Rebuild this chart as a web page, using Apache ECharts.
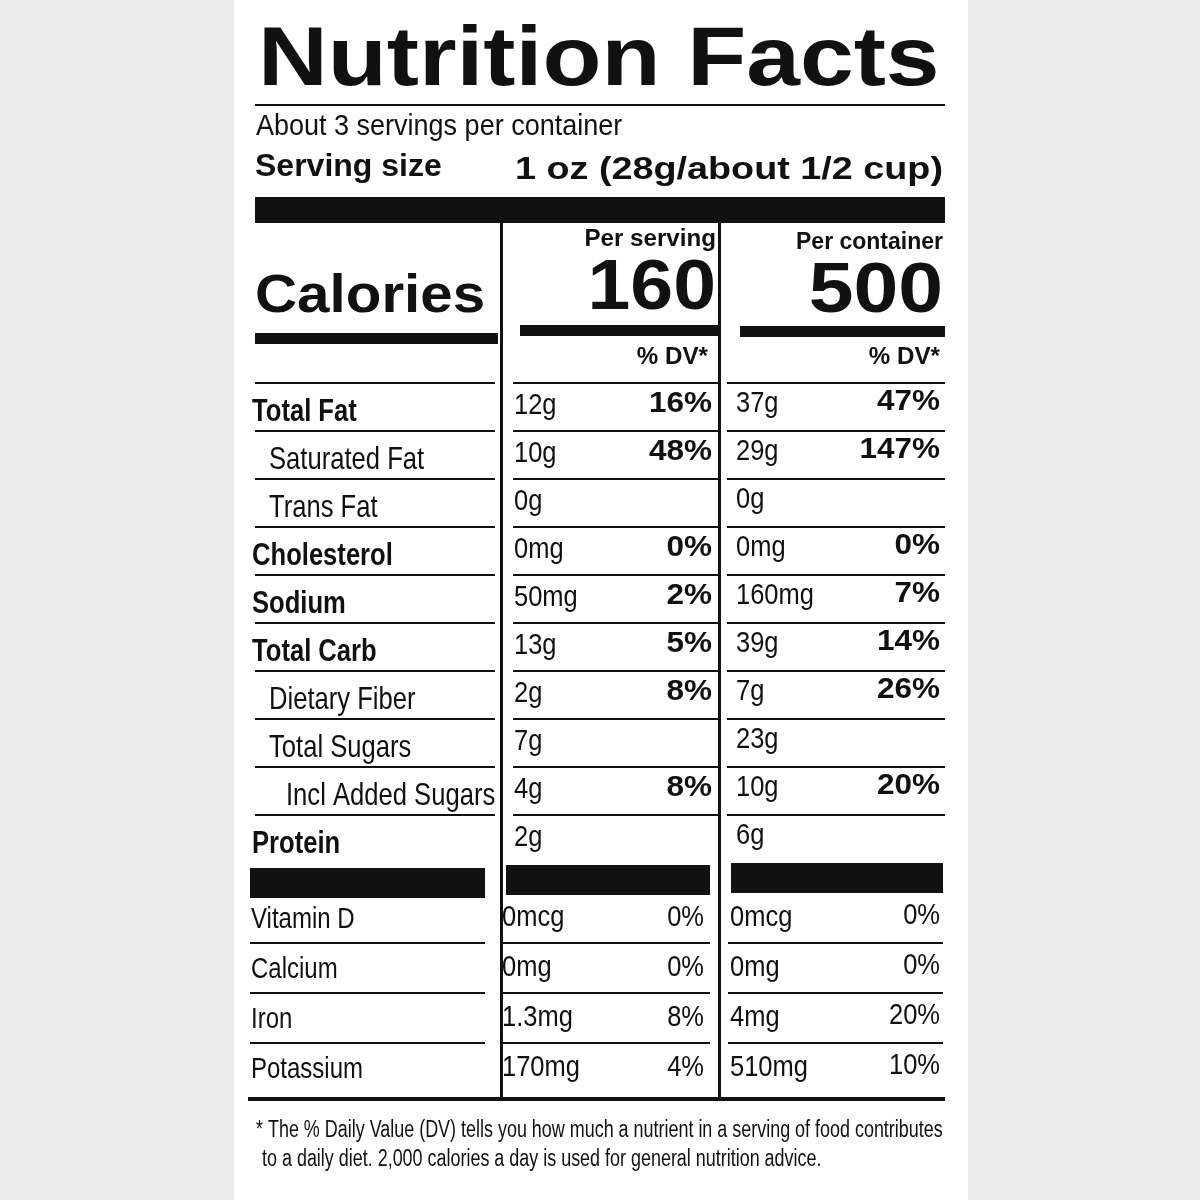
<!DOCTYPE html>
<html><head><meta charset="utf-8">
<script src="https://cdn.jsdelivr.net/npm/echarts@6/dist/echarts.min.js"></script>
<style>html,body{margin:0;padding:0;background:#ececec}#main{width:1200px;height:1200px}</style>
</head><body><div id="main"></div>
<script>
var nutrients = ['Total Fat','Saturated Fat','Trans Fat','Cholesterol','Sodium','Total Carb','Dietary Fiber','Total Sugars','Incl Added Sugars','Protein'];
var indents = [0,1,1,0,0,0,1,1,2,0];
var servAmt = ['12g','10g','0g','0mg','50mg','13g','2g','7g','4g','2g'];
var servDV = ['16%','48%','','0%','2%','5%','8%','','8%',''];
var contAmt = ['37g','29g','0g','0mg','160mg','39g','7g','23g','10g','6g'];
var contDV = ['47%','147%','','0%','7%','14%','26%','','20%',''];
var vitamins = ['Vitamin D','Calcium','Iron','Potassium'];
var vitServAmt = ['0mcg','0mg','1.3mg','170mg'];
var vitServDV = ['0%','0%','8%','4%'];
var vitContAmt = ['0mcg','0mg','4mg','510mg'];
var vitContDV = ['0%','0%','20%','10%'];

var chart = echarts.init(document.getElementById('main'));
var FONT = '"Liberation Sans",Arial';
var g = [];
function rect(x,y,w,h){g.push({type:'rect',shape:{x:x,y:y,width:w,height:h},style:{fill:'#111'}});}
function txt(s,x,y,size,bold,align,sx){
  g.push({type:'text',x:x,y:y,scaleX:sx||1,style:{text:s,fontSize:size,fontWeight:bold?'bold':'normal',
    fontFamily:FONT,fill:'#111',textAlign:align||'left',textVerticalAlign:'middle'}});
}
g.push({type:'rect',shape:{x:234,y:0,width:734,height:1200},style:{fill:'#fff'}});
txt('Nutrition Facts',258,62,84,true,'left',1.15);
rect(255,104,690,2);
txt('About 3 servings per container',256,127,30,false,'left',0.9);
txt('Serving size',255,167,32,true,'left',1.0);
txt('1 oz (28g/about 1/2 cup)',943,170,32,true,'right',1.18);
rect(255,197,690,26);
rect(500,222,3,876); rect(718,222,3,876);
txt('Per serving',716,240,23,true,'right',1.05);
txt('160',716,290,70,true,'right',1.1);
txt('Per container',943,243,23,true,'right',1.0);
txt('500',943,293,70,true,'right',1.15);
txt('Calories',255,297,54,true,'left',1.08);
rect(255,333,243,11); rect(520,325,198,11); rect(740,326,205,11);
txt('% DV*',708,358,23,true,'right',1.05);
txt('% DV*',940,358,23,true,'right',1.05);
var y0 = 412, step = 48;
nutrients.forEach(function(n,i){
  var y = y0 + i*step;
  rect(255,y-30,240,2); rect(513,y-30,205,2); rect(727,y-30,218,2);
  txt(n,252+indents[i]*17,y,32,indents[i]===0,'left',0.8);
  txt(servAmt[i],514,y-6,30,false,'left',0.85); txt(servDV[i],712,y-8,30,true,'right',1.05);
  txt(contAmt[i],736,y-8,30,false,'left',0.85); txt(contDV[i],940,y-10,30,true,'right',1.05);
});
rect(250,868,235,30); rect(506,865,204,30); rect(731,863,212,30);
vitamins.forEach(function(n,i){
  var y = 918 + i*50;
  if(i>0){rect(250,y-26,235,2); rect(503,y-26,207,2); rect(728,y-26,215,2);}
  txt(n,251,y+2,30,false,'left',0.8);
  txt(vitServAmt[i],502,y,30,false,'left',0.85); txt(vitServDV[i],704,y,30,false,'right',0.85);
  txt(vitContAmt[i],730,y,30,false,'left',0.85); txt(vitContDV[i],940,y-2,30,false,'right',0.85);
});
rect(248,1097,697,4);
txt('* The % Daily Value (DV) tells you how much a nutrient in a serving of food contributes',256,1131,23,false,'left',0.78);
txt('to a daily diet. 2,000 calories a day is used for general nutrition advice.',262,1160,23,false,'left',0.78);
chart.setOption({backgroundColor:'#ececec',graphic:{elements:g}});
</script></body></html>
